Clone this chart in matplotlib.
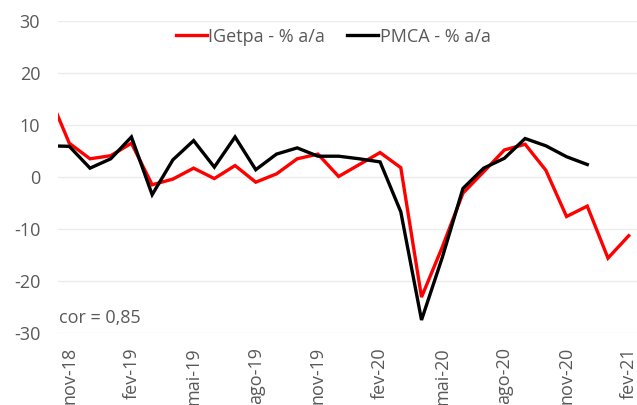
import numpy as np
import matplotlib.pyplot as plt

plt.rcParams['font.family'] = ['Open Sans', 'DejaVu Sans']
plt.rcParams['axes.unicode_minus'] = False

meses = ['out-18', 'nov-18', 'dez-18', 'jan-19', 'fev-19', 'mar-19', 'abr-19',
         'mai-19', 'jun-19', 'jul-19', 'ago-19', 'set-19', 'out-19', 'nov-19',
         'dez-19', 'jan-20', 'fev-20', 'mar-20', 'abr-20', 'mai-20', 'jun-20',
         'jul-20', 'ago-20', 'set-20', 'out-20', 'nov-20', 'dez-20', 'jan-21',
         'fev-21']

igetpa = [16.0, 6.5, 3.5, 4.1, 6.5, -1.5, -0.4, 1.7, -0.3, 2.2, -1.0, 0.6,
          3.5, 4.4, 0.1, 2.4, 4.7, 1.8, -23.1, -13.5, -3.1, 1.0, 5.2, 6.3,
          1.3, -7.6, -5.6, -15.6, -11.3]

pmca = [6.0, 5.9, 1.7, 3.5, 7.7, -3.4, 3.3, 7.0, 1.9, 7.7, 1.4, 4.4, 5.6,
        4.0, 4.0, 3.5, 2.9, -6.7, -27.5, -15.5, -2.2, 1.7, 3.6, 7.4, 6.0,
        3.9, 2.4, np.nan, np.nan]

rotulos = ['nov-18', 'fev-19', 'mai-19', 'ago-19', 'nov-19', 'fev-20',
           'mai-20', 'ago-20', 'nov-20', 'fev-21']

x = np.arange(len(meses)) - 1  # nov-18 = 0
pos_rotulos = [meses.index(r) - 1 for r in rotulos]

cinza = '#595959'

fig = plt.figure(figsize=(6.37, 4.05), dpi=100)
ax = fig.add_axes([58.3/637, 72/405, (637-58.3)/637, 312/405])

ax.plot(x, igetpa, color='#ff0000', lw=2.4, label='IGetpa - % a/a',
        solid_joinstyle='miter')
ax.plot(x, pmca, color='black', lw=2.4, label='PMCA - % a/a',
        solid_joinstyle='miter')

ax.set_xlim(-0.53, 27.4)
ax.set_ylim(-30, 30)
ax.set_yticks(np.arange(-30, 31, 10))
ax.set_xticks(pos_rotulos)
ax.set_xticklabels(rotulos, rotation=90, va='top', ha='center')
ax.grid(axis='y', color='#ebebeb', lw=1)
ax.set_axisbelow(True)
for s in ax.spines.values():
    s.set_visible(False)
ax.tick_params(axis='both', length=0, labelsize=13, colors=cinza)
ax.tick_params(axis='y', pad=13)
ax.tick_params(axis='x', pad=10)

ax.text(0.001, 0.048, 'cor = 0,85', transform=ax.transAxes, fontsize=13,
        color=cinza, va='center', ha='left')

leg = ax.legend(loc='center', bbox_to_anchor=(0.475, 0.95), ncol=2,
                frameon=False, fontsize=13, handlelength=1.7,
                handletextpad=0.1, columnspacing=1.2)
for t in leg.get_texts():
    t.set_color(cinza)

plt.savefig('out.png', dpi=100)
